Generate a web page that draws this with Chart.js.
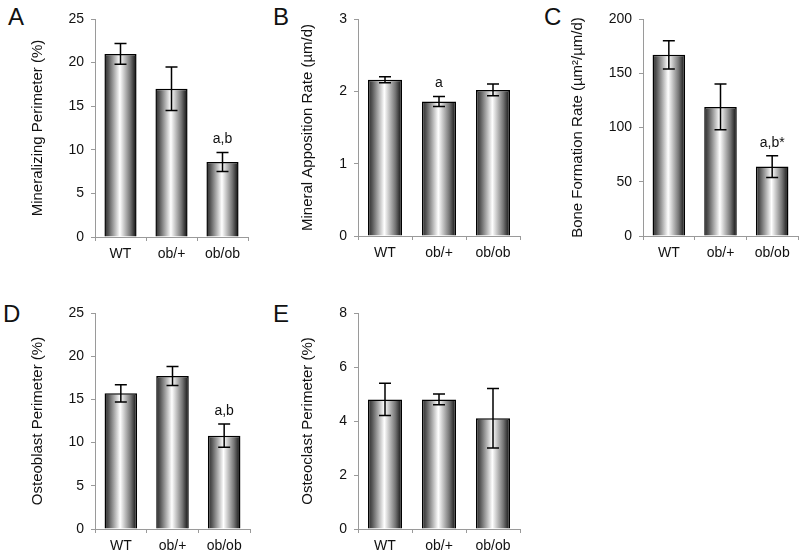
<!DOCTYPE html>
<html>
<head>
<meta charset="utf-8">
<script src="https://cdn.jsdelivr.net/npm/chart.js@4/dist/chart.umd.min.js"></script>
<style>
    body { margin: 0; background: #fff; }
    #figure { position: relative; width: 800px; height: 559px; overflow: hidden; font-family: "Liberation Sans", Arial, sans-serif; }
    canvas { position: absolute; }
    .letter { position: absolute; font-size: 24px; line-height: 24px; color: #111; }
</style>
</head>
<body>
<div id="figure">
    <div class="letter" style="left:8px;top:5px">A</div>
    <div class="letter" style="left:273px;top:5px">B</div>
    <div class="letter" style="left:544px;top:5px">C</div>
    <div class="letter" style="left:3px;top:302px">D</div>
    <div class="letter" style="left:273px;top:302px">E</div>
    <canvas id="chartA" width="262" height="265" style="left:0;top:0"></canvas>
    <canvas id="chartB" width="262" height="265" style="left:270px;top:0"></canvas>
    <canvas id="chartC" width="260" height="265" style="left:540px;top:0"></canvas>
    <canvas id="chartD" width="262" height="279" style="left:0;top:280px"></canvas>
    <canvas id="chartE" width="262" height="279" style="left:270px;top:280px"></canvas>
</div>
<script>
// Datos (media +/- error)
const groups = ['WT', 'ob/+', 'ob/ob'];

const mineralizingPerimeter = [21.0, 17.0, 8.6];
const mineralizingPerimeterErr = [1.2, 2.5, 1.1];
const mineralizingPerimeterMarks = ['', '', 'a,b'];
const mineralizingPerimeterTicks = [0, 5, 10, 15, 20, 25];

const mineralAppositionRate = [2.16, 1.86, 2.02];
const mineralAppositionRateErr = [0.04, 0.07, 0.08];
const mineralAppositionRateMarks = ['', 'a', ''];
const mineralAppositionRateTicks = [0, 1, 2, 3];

const boneFormationRate = [167, 119, 64];
const boneFormationRateErr = [13, 21, 10];
const boneFormationRateMarks = ['', '', 'a,b*'];
const boneFormationRateTicks = [0, 50, 100, 150, 200];

const osteoblastPerimeter = [15.7, 17.7, 10.8];
const osteoblastPerimeterErr = [1.0, 1.1, 1.35];
const osteoblastPerimeterMarks = ['', '', 'a,b'];
const osteoblastPerimeterTicks = [0, 5, 10, 15, 20, 25];

const osteoclastPerimeter = [4.8, 4.8, 4.1];
const osteoclastPerimeterErr = [0.6, 0.2, 1.1];
const osteoclastPerimeterMarks = ['', '', ''];
const osteoclastPerimeterTicks = [0, 2, 4, 6, 8];

const FONT = '"Liberation Sans", Arial, sans-serif';
const AXIS_GRAY = '#9a9a9a';
const BAR_FRACTION = 0.9 * 0.7;

// Relleno tipo cilindro (oscuro - blanco - negro)
function barFill(context) {
    const chart = context.chart;
    const { ctx, chartArea, scales } = chart;
    if (!chartArea || context.type !== 'data') return '#888';
    const cx = scales.x.getPixelForValue(context.dataIndex);
    const half = (scales.x.width / groups.length) * BAR_FRACTION / 2;
    const g = ctx.createLinearGradient(cx - half, 0, cx + half, 0);
    g.addColorStop(0, '#2a2a2a');
    g.addColorStop(0.12, '#555');
    g.addColorStop(0.48, '#ffffff');
    g.addColorStop(0.8, '#777');
    g.addColorStop(1, '#0a0a0a');
    return g;
}

// Barras de error y letras de significancia
const errorBarPlugin = {
    id: 'errorBars',
    afterDatasetsDraw(chart, args, opts) {
        const { ctx, scales } = chart;
        const meta = chart.getDatasetMeta(0);
        const values = chart.data.datasets[0].data;
        ctx.save();
        ctx.strokeStyle = '#000';
        ctx.lineWidth = 1.5;
        meta.data.forEach((bar, i) => {
            const v = values[i];
            const e = opts.errors[i];
            const yTop = scales.y.getPixelForValue(v + e);
            const yBot = scales.y.getPixelForValue(v - e);
            const x = bar.x;
            ctx.beginPath();
            ctx.moveTo(x, yTop);
            ctx.lineTo(x, yBot);
            ctx.moveTo(x - 6, yTop);
            ctx.lineTo(x + 6, yTop);
            ctx.moveTo(x - 6, yBot);
            ctx.lineTo(x + 6, yBot);
            ctx.stroke();
            const mark = opts.marks[i];
            if (mark) {
                ctx.fillStyle = '#111';
                ctx.font = '14px ' + FONT;
                ctx.textAlign = 'center';
                ctx.textBaseline = 'alphabetic';
                ctx.fillText(mark, x, yTop - 9);
            }
        });
        ctx.restore();
    }
};

function makePanel(canvasId, values, errors, marks, ticks, title, pad) {
    const canvas = document.getElementById(canvasId);
    const yMax = ticks[ticks.length - 1];
    return new Chart(canvas, {
        type: 'bar',
        data: {
            labels: groups,
            datasets: [{
                data: values,
                backgroundColor: barFill,
                borderColor: '#000',
                borderWidth: 1.5,
                barPercentage: 0.9,
                categoryPercentage: 0.7
            }]
        },
        options: {
            responsive: false,
            animation: false,
            events: [],
            layout: { padding: { top: pad.top, right: pad.right, left: 0, bottom: 0 } },
            plugins: {
                legend: { display: false },
                tooltip: { enabled: false },
                errorBars: { errors: errors, marks: marks }
            },
            scales: {
                x: {
                    afterFit(scale) { scale.height = pad.xHeight; },
                    grid: { display: true, drawOnChartArea: false, drawTicks: true, tickLength: 4, color: AXIS_GRAY },
                    border: { display: true, color: AXIS_GRAY, width: 1 },
                    ticks: { color: '#111', padding: 5, font: { family: FONT, size: 14 } }
                },
                y: {
                    min: 0,
                    max: yMax,
                    afterFit(scale) { scale.width = pad.yWidth; },
                    afterBuildTicks(scale) { scale.ticks = ticks.map(v => ({ value: v })); },
                    grid: { display: true, drawOnChartArea: false, drawTicks: true, tickLength: 4, color: AXIS_GRAY },
                    border: { display: true, color: AXIS_GRAY, width: 1 },
                    ticks: { color: '#111', padding: 7, font: { family: FONT, size: 14 } },
                    title: {
                        display: true,
                        text: title,
                        color: '#111',
                        padding: { top: 29, bottom: 0 },
                        font: { family: FONT, size: 15 }
                    }
                }
            }
        },
        plugins: [errorBarPlugin]
    });
}

makePanel('chartA', mineralizingPerimeter, mineralizingPerimeterErr, mineralizingPerimeterMarks,
    mineralizingPerimeterTicks, 'Mineralizing Perimeter (%)', { top: 19, right: 14, yWidth: 95, xHeight: 28 });
makePanel('chartB', mineralAppositionRate, mineralAppositionRateErr, mineralAppositionRateMarks,
    mineralAppositionRateTicks, 'Mineral Apposition Rate (µm/d)', { top: 19, right: 12, yWidth: 88, xHeight: 29 });
makePanel('chartC', boneFormationRate, boneFormationRateErr, boneFormationRateMarks,
    boneFormationRateTicks, 'Bone Formation Rate (µm²/µm/d)', { top: 19, right: 2, yWidth: 103, xHeight: 29 });
makePanel('chartD', osteoblastPerimeter, osteoblastPerimeterErr, osteoblastPerimeterMarks,
    osteoblastPerimeterTicks, 'Osteoblast Perimeter (%)', { top: 33, right: 12, yWidth: 95, xHeight: 30 });
makePanel('chartE', osteoclastPerimeter, osteoclastPerimeterErr, osteoclastPerimeterMarks,
    osteoclastPerimeterTicks, 'Osteoclast Perimeter (%)', { top: 33, right: 12, yWidth: 88, xHeight: 30 });
</script>
</body>
</html>
